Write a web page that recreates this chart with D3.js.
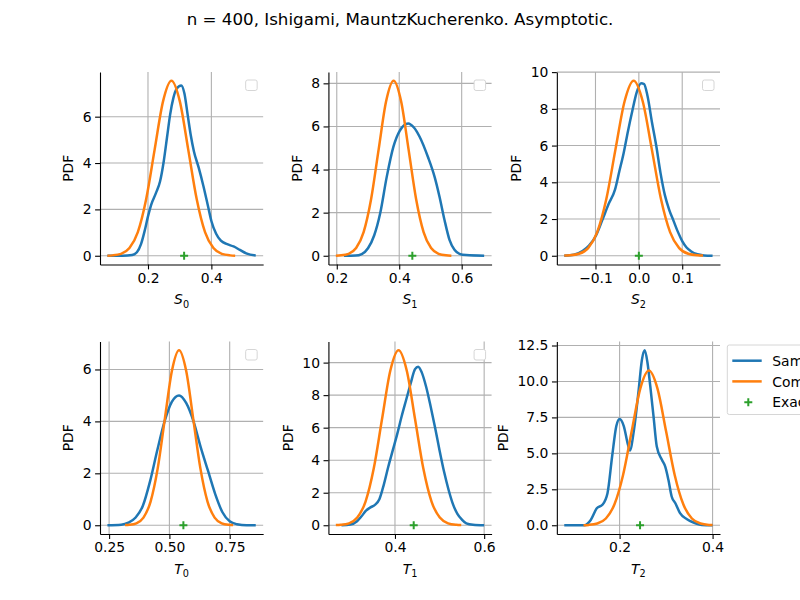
<!DOCTYPE html>
<html>
<head>
<meta charset="utf-8">
<script src="https://cdn.jsdelivr.net/npm/d3@7"></script>
<style>
  body { margin: 0; background: #fff; }
  svg { font-family: "DejaVu Sans", sans-serif; }
</style>
</head>
<body>
<script>
var title = "n = 400, Ishigami, MauntzKucherenko. Asymptotic.";
var labelNames = ["S", "S", "S", "T", "T", "T"];
var labelIndex = ["0", "1", "2", "0", "1", "2"];
var legendNames = ["Sample", "Computed", "Exact"];

var exactValues = [0.314, 0.442, 0.0, 0.558, 0.442, 0.244];

var xTicks = [[0.2, 0.4], [0.2, 0.4, 0.6], [-0.1, 0, 0.1], [0.25, 0.5, 0.75], [0.4, 0.6], [0.2, 0.4]];
var xTickLabels = [["0.2", "0.4"], ["0.2", "0.4", "0.6"], ["\u22120.1", "0.0", "0.1"], ["0.25", "0.50", "0.75"], ["0.4", "0.6"], ["0.2", "0.4"]];
var yTicks = [[0, 2, 4, 6], [0, 2, 4, 6, 8], [0, 2, 4, 6, 8, 10], [0, 2, 4, 6], [0, 2, 4, 6, 8, 10], [0, 2.5, 5, 7.5, 10, 12.5]];
var yTickLabels = [["0", "2", "4", "6"], ["0", "2", "4", "6", "8"], ["0", "2", "4", "6", "8", "10"], ["0", "2", "4", "6"], ["0", "2", "4", "6", "8", "10"], ["0.0", "2.5", "5.0", "7.5", "10.0", "12.5"]];

// sample (kernel smoothed) distributions, [x, pdf]
var sampleS0 = [[0.072, 0], [0.12, 0.0], [0.15, 0.03], [0.165, 0.15], [0.178, 0.5], [0.19, 1.1], [0.2, 1.7], [0.21, 2.2], [0.225, 2.7], [0.238, 3.2], [0.25, 4.1], [0.26, 5.1], [0.27, 6.1], [0.28, 6.8], [0.29, 7.2], [0.305, 7.35], [0.315, 7.0], [0.325, 6.1], [0.335, 5.2], [0.345, 4.5], [0.36, 3.8], [0.375, 3.0], [0.39, 2.1], [0.4, 1.5], [0.415, 0.95], [0.43, 0.65], [0.45, 0.5], [0.47, 0.4], [0.49, 0.25], [0.51, 0.1], [0.54, 0.01]];
var sampleS1 = [[0.223, 0], [0.26, 0.01], [0.28, 0.08], [0.3, 0.35], [0.32, 0.95], [0.339, 1.97], [0.36, 3.66], [0.381, 5.04], [0.402, 5.81], [0.4286, 6.14], [0.447, 5.95], [0.4657, 5.51], [0.492, 4.58], [0.5133, 3.66], [0.529, 2.74], [0.545, 1.66], [0.561, 0.74], [0.577, 0.28], [0.593, 0.09], [0.614, 0.03], [0.672, 0]];
var sampleS2 = [[-0.172, 0.0], [-0.15, 0.05], [-0.13, 0.25], [-0.115, 0.55], [-0.1, 1.05], [-0.085, 1.9], [-0.07, 2.8], [-0.055, 3.6], [-0.045, 4.6], [-0.035, 5.6], [-0.025, 6.8], [-0.015, 7.9], [-0.005, 8.9], [0.005, 9.4], [0.012, 9.35], [0.02, 8.7], [0.03, 7.3], [0.04, 6.0], [0.05, 4.5], [0.06, 3.3], [0.07, 2.5], [0.08, 1.9], [0.09, 1.3], [0.1, 0.8], [0.11, 0.45], [0.12, 0.25], [0.135, 0.08], [0.15, 0.02], [0.17, 0.0]];
var sampleT0 = [[0.243, 0], [0.3, 0.02], [0.33, 0.1], [0.36, 0.3], [0.39, 0.75], [0.42, 1.7], [0.45, 2.9], [0.48, 4.0], [0.51, 4.75], [0.54, 5.0], [0.57, 4.7], [0.6, 4.0], [0.63, 3.0], [0.66, 2.1], [0.69, 1.2], [0.72, 0.5], [0.75, 0.15], [0.78, 0.04], [0.82, 0.0], [0.858, 0]];
var sampleT1 = [[0.28, 0], [0.3, 0.05], [0.315, 0.25], [0.325, 0.55], [0.335, 0.9], [0.345, 1.1], [0.355, 1.25], [0.365, 1.6], [0.375, 2.5], [0.385, 3.6], [0.395, 4.6], [0.405, 5.6], [0.415, 6.7], [0.425, 7.7], [0.435, 8.7], [0.445, 9.6], [0.452, 9.75], [0.46, 9.4], [0.47, 8.5], [0.48, 7.3], [0.49, 6.0], [0.5, 4.6], [0.51, 3.3], [0.52, 2.2], [0.53, 1.3], [0.54, 0.7], [0.55, 0.35], [0.56, 0.12], [0.575, 0.03], [0.6, 0.0]];
var sampleT2 = [[0.081, 0], [0.124, 0.0], [0.138, 0.37], [0.151, 1.18], [0.163, 1.42], [0.174, 2.23], [0.184, 4.8], [0.193, 6.9], [0.2, 7.39], [0.209, 6.9], [0.218, 5.6], [0.222, 5.2], [0.231, 6.65], [0.241, 9.4], [0.248, 11.5], [0.254, 12.17], [0.26, 11.3], [0.266, 9.67], [0.273, 7.57], [0.28, 5.48], [0.291, 4.55], [0.298, 4.09], [0.305, 3.16], [0.312, 2.0], [0.32, 1.53], [0.33, 0.84], [0.345, 0.42], [0.359, 0.19], [0.377, 0.02], [0.4, 0]];

// asymptotic distributions, [x, pdf]
var asymS0 = [[0.072, 0.005], [0.0885, 0.016], [0.115, 0.08], [0.1415, 0.33], [0.168, 1.02], [0.1945, 2.46], [0.221, 4.58], [0.2475, 6.66], [0.274, 7.55], [0.3005, 6.66], [0.327, 4.58], [0.3535, 2.46], [0.38, 1.02], [0.4065, 0.33], [0.433, 0.08], [0.4595, 0.016], [0.475, 0.005]];
var asymS1 = [[0.197, 0.005], [0.214, 0.018], [0.238, 0.09], [0.262, 0.357], [0.286, 1.099], [0.31, 2.635], [0.334, 4.925], [0.358, 7.166], [0.382, 8.12], [0.406, 7.166], [0.43, 4.925], [0.454, 2.635], [0.478, 1.099], [0.502, 0.357], [0.526, 0.09], [0.55, 0.018], [0.567, 0.005]];
var asymS2 = [[-0.172, 0.007], [-0.159, 0.021], [-0.138, 0.106], [-0.117, 0.417], [-0.096, 1.29], [-0.075, 3.09], [-0.054, 5.78], [-0.033, 8.4], [-0.012, 9.53], [0.009, 8.4], [0.03, 5.78], [0.051, 3.09], [0.072, 1.29], [0.093, 0.417], [0.114, 0.106], [0.135, 0.021], [0.148, 0.007]];
var asymT0 = [[0.316, 0.005], [0.3335, 0.015], [0.363, 0.075], [0.3925, 0.296], [0.422, 0.912], [0.4515, 2.19], [0.481, 4.09], [0.5105, 5.95], [0.54, 6.74], [0.5695, 5.95], [0.599, 4.09], [0.6285, 2.19], [0.658, 0.912], [0.6875, 0.296], [0.717, 0.075], [0.7465, 0.015], [0.764, 0.005]];
var asymT1 = [[0.2674, 0.008], [0.2785, 0.024], [0.297, 0.12], [0.3155, 0.472], [0.334, 1.456], [0.3525, 3.5], [0.371, 6.53], [0.3895, 9.5], [0.408, 10.76], [0.4265, 9.5], [0.445, 6.53], [0.4635, 3.5], [0.482, 1.456], [0.5005, 0.472], [0.519, 0.12], [0.5375, 0.024], [0.5486, 0.008]];
var asymT2 = [[0.1224, 0.008], [0.1335, 0.024], [0.152, 0.12], [0.1705, 0.472], [0.189, 1.456], [0.2075, 3.5], [0.226, 6.53], [0.2445, 9.5], [0.263, 10.76], [0.2815, 9.5], [0.3, 6.53], [0.3185, 3.5], [0.337, 1.456], [0.3555, 0.472], [0.374, 0.12], [0.3925, 0.024], [0.4, 0.012]];

var samples = [sampleS0, sampleS1, sampleS2, sampleT0, sampleT1, sampleT2];
var asyms = [asymS0, asymS1, asymS2, asymT0, asymT1, asymT2];

var blue = "#1f77b4", orange = "#ff7f0e", green = "#2ca02c";

var svg = d3.select("body").append("svg").attr("width", 800).attr("height", 600);

svg.append("text")
  .attr("x", 400)
  .attr("y", 25)
  .attr("text-anchor", "middle")
  .style("font-size", "16.7px")
  .text(title);

var w = 620 / 3.8,
  h = 462 / 2.4;

var line = d3.line()
  .x(function (d) { return d.x; })
  .y(function (d) { return d.y; })
  .curve(d3.curveMonotoneX);

function plus(g, cx, cy, r) {
  g.append("path")
    .attr("d", "M" + (cx - r) + "," + cy + "H" + (cx + r) + "M" + cx + "," + (cy - r) + "V" + (cy + r))
    .attr("stroke", green)
    .attr("stroke-width", 2)
    .attr("fill", "none");
}

function drawPanel(i) {
  var left = 100 + (i % 3) * w * 1.4;
  var top = 72 + Math.floor(i / 3) * h * 1.4;
  var g = svg.append("g").attr("transform", "translate(" + left + "," + top + ")");

  var all = samples[i].concat(asyms[i]).concat([[exactValues[i], 0]]);
  var xmin = d3.min(all, function (d) { return d[0]; });
  var xmax = d3.max(all, function (d) { return d[0]; });
  var ymax = d3.max(all, function (d) { return d[1]; });
  var pad = (xmax - xmin) * 0.05;

  var x = d3.scaleLinear().domain([xmin - pad, xmax + pad]).range([0, w]);
  var y = d3.scaleLinear().domain([-0.05 * ymax, 1.05 * ymax]).range([h, 0]);

  // grid
  g.selectAll(".vgrid").data(xTicks[i]).enter().append("line")
    .attr("x1", function (d) { return x(d); })
    .attr("x2", function (d) { return x(d); })
    .attr("y1", 0).attr("y2", h)
    .attr("stroke", "#b0b0b0").attr("stroke-width", 1.1);
  g.selectAll(".hgrid").data(yTicks[i]).enter().append("line")
    .attr("y1", function (d) { return y(d); })
    .attr("y2", function (d) { return y(d); })
    .attr("x1", 0).attr("x2", w)
    .attr("stroke", "#b0b0b0").attr("stroke-width", 1.1);

  // curves
  g.append("path")
    .attr("d", line(samples[i].map(function (d) { return { x: x(d[0]), y: y(d[1]) }; })))
    .attr("fill", "none").attr("stroke", blue).attr("stroke-width", 2.5);
  g.append("path")
    .attr("d", line(asyms[i].map(function (d) { return { x: x(d[0]), y: y(d[1]) }; })))
    .attr("fill", "none").attr("stroke", orange).attr("stroke-width", 2.5);
  plus(g, x(exactValues[i]), y(0), 4);

  // axes
  var xAxis = d3.axisBottom(x)
    .tickValues(xTicks[i])
    .tickFormat(function (d, j) { return xTickLabels[i][j]; })
    .tickSize(4.9).tickSizeOuter(0).tickPadding(3.5);
  var yAxis = d3.axisLeft(y)
    .tickValues(yTicks[i])
    .tickFormat(function (d, j) { return yTickLabels[i][j]; })
    .tickSize(4.9).tickSizeOuter(0).tickPadding(3.5);

  var gx = g.append("g").attr("transform", "translate(0," + h + ")").call(xAxis);
  var gy = g.append("g").call(yAxis);
  [gx, gy].forEach(function (a) {
    a.attr("font-family", null).attr("font-size", null);
    a.selectAll("text").style("font-size", "13.9px").attr("fill", "#000");
    a.selectAll("line").attr("stroke", "#000").attr("stroke-width", 1.1);
    a.select(".domain").attr("stroke", "#000").attr("stroke-width", 1.1);
  });

  var maxW = 0;
  gy.selectAll("text").each(function () {
    maxW = Math.max(maxW, this.getComputedTextLength());
  });

  g.append("text")
    .attr("transform", "translate(" + -(maxW + 4.9 + 3.5 + 5.6 + 9) + "," + h / 2 + ") rotate(-90)")
    .attr("text-anchor", "middle")
    .attr("dominant-baseline", "central")
    .style("font-size", "13.9px")
    .text("PDF");

  var xl = g.append("text")
    .attr("x", w / 2)
    .attr("y", h + 39.5)
    .attr("text-anchor", "middle")
    .style("font-size", "13.9px");
  xl.append("tspan").style("font-style", "italic").text(labelNames[i]);
  xl.append("tspan").attr("dy", 3.5).style("font-size", "9.7px").text(labelIndex[i]);

  if (i < 5) {
    // empty legend frame
    g.append("rect")
      .attr("x", w - 6 - 11.5).attr("y", 8)
      .attr("width", 11.5).attr("height", 10.5)
      .attr("rx", 2)
      .attr("fill", "#fff").attr("stroke", "#d6d6d6").attr("stroke-width", 1);
  }
}

for (var i = 0; i < 6; i++) {
  drawPanel(i);
}

// legend of last panel
var legend = svg.append("g").attr("transform", "translate(727.3,345)");
legend.append("rect")
  .attr("width", 130).attr("height", 69.5).attr("rx", 2)
  .attr("fill", "#fff").attr("stroke", "#d6d6d6").attr("stroke-width", 1);
[blue, orange].forEach(function (c, k) {
  legend.append("line")
    .attr("x1", 5).attr("x2", 34.4)
    .attr("y1", 15.7 + k * 20.7).attr("y2", 15.7 + k * 20.7)
    .attr("stroke", c).attr("stroke-width", 2.5);
});
plus(legend, 21, 57.3, 4);
legend.selectAll(".lt").data(legendNames).enter().append("text")
  .attr("x", 45)
  .attr("y", function (d, k) { return 20.8 + k * 20.7; })
  .style("font-size", "13.9px")
  .text(function (d) { return d; });
</script>
</body>
</html>
